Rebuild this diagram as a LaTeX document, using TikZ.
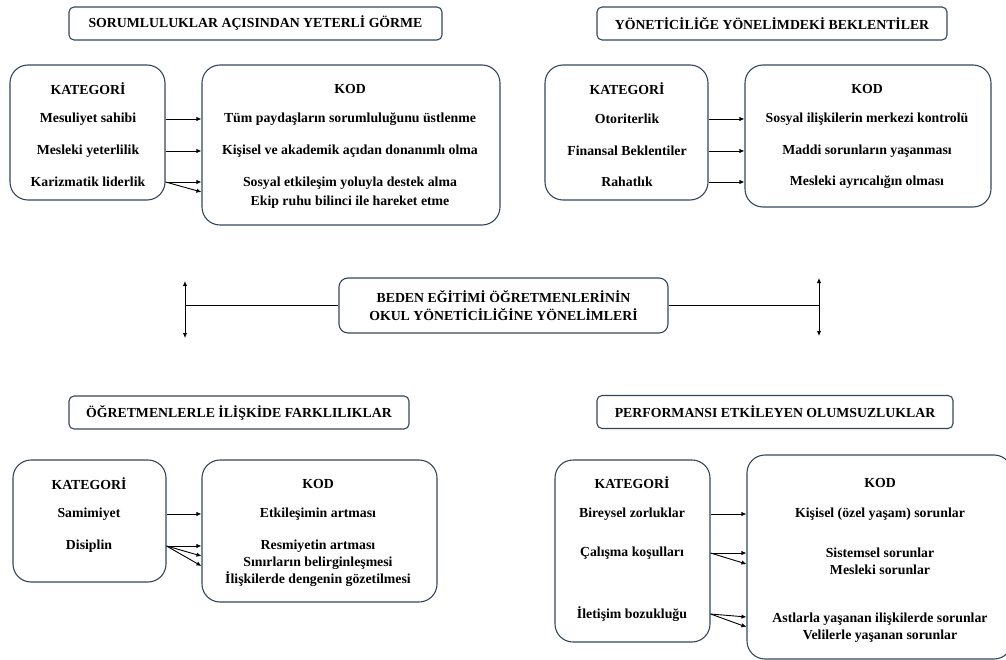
\documentclass[tikz,border=0pt]{standalone}
\usepackage{fontspec}
\setmainfont{Liberation Serif}
\usepackage{tikz}
\usetikzlibrary{arrows.meta,calc,positioning}
\definecolor{boxline}{RGB}{52,70,90}

\begin{document}
\begin{tikzpicture}[
    x=1pt, y=-1pt,
    font=\fontsize{13.8}{15}\selectfont\bfseries,
    titlebox/.style={draw=boxline, line width=1.1pt, rounded corners=5pt, minimum height=33pt, inner sep=0pt},
    katbox/.style={draw=boxline, line width=1.1pt, rounded corners=18pt, inner sep=0pt},
    mainbox/.style={draw=boxline, line width=1.1pt, rounded corners=9pt, minimum height=55pt, inner sep=0pt},
    lbl/.style={inner sep=1pt, yshift=-1pt},
    arr/.style={-{Latex[length=5pt,width=4.5pt]}, line width=0.9pt},
    darr/.style={{Latex[length=5pt,width=4.5pt]}-{Latex[length=5pt,width=4.5pt]}, line width=0.9pt}
]
\useasboundingbox (0,0) rectangle (1006,660);

% Sorumluluklar
\node[titlebox, minimum width=373pt] (t1) at (255.5,23.5) {SORUMLULUKLAR AÇISINDAN YETERLİ GÖRME};
\node[katbox, minimum width=155pt, minimum height=135pt] (kat1) at (87.5,132.5) {};
\node[katbox, minimum width=298pt, minimum height=160pt] (kod1) at (351,145) {};
\node[lbl] (kh1) at (88,88) {KATEGORİ};
\node[lbl] (k1a) at (88,118) {Mesuliyet sahibi};
\node[lbl] (k1b) at (88,150) {Mesleki yeterlilik};
\node[lbl] (k1c) at (88,181) {Karizmatik liderlik};
\node[lbl] (ch1) at (350,88) {KOD};
\node[lbl] (c1a) at (350,118) {Tüm paydaşların sorumluluğunu üstlenme};
\node[lbl] (c1b) at (350,150) {Kişisel ve akademik açıdan donanımlı olma};
\node[lbl] (c1c) at (350,182) {Sosyal etkileşim yoluyla destek alma};
\node[lbl] (c1d) at (350,201) {Ekip ruhu bilinci ile hareket etme};
\draw[arr] (kat1.east |- k1a) -- (kod1.west |- c1a);
\draw[arr] (kat1.east |- k1b) -- (kod1.west |- c1b);
\draw[arr] (kat1.east |- k1c) -- (kod1.west |- k1c);
\draw[arr] (kat1.east |- k1c) -- ($(kod1.west |- k1c)+(0,10)$);

% Beklentiler
\node[titlebox, minimum width=350pt] (t2) at (772,23.5) {YÖNETİCİLİĞE YÖNELİMDEKİ BEKLENTİLER};
\node[katbox, minimum width=163pt, minimum height=135pt] (kat2) at (626.5,132.5) {};
\node[katbox, minimum width=246pt, minimum height=142pt] (kod2) at (868,136) {};
\node[lbl] (kh2) at (627,88) {KATEGORİ};
\node[lbl] (k2a) at (627,118) {Otoriterlik};
\node[lbl] (k2b) at (627,150) {Finansal Beklentiler};
\node[lbl] (k2c) at (627,181) {Rahatlık};
\node[lbl] (ch2) at (867,88) {KOD};
\node[lbl] (c2a) at (867,118) {Sosyal ilişkilerin merkezi kontrolü};
\node[lbl] (c2b) at (867,150) {Maddi sorunların yaşanması};
\node[lbl] (c2c) at (867,181) {Mesleki ayrıcalığın olması};
\draw[arr] (kat2.east |- k2a) -- (kod2.west |- c2a);
\draw[arr] (kat2.east |- k2b) -- (kod2.west |- c2b);
\draw[arr] (kat2.east |- k2c) -- (kod2.west |- c2c);

% Ana tema
\node[mainbox, minimum width=329pt, align=center, font=\fontsize{13.8}{18}\selectfont\bfseries] (ana) at (503.5,305.5) {BEDEN EĞİTİMİ ÖĞRETMENLERİNİN\\OKUL YÖNETİCİLİĞİNE YÖNELİMLERİ};
\coordinate (lt) at (185,281);
\coordinate (lb) at (185,338);
\coordinate (rt) at (819,278);
\coordinate (rb) at (819,336);
\draw[darr] (lt) -- (lb);
\draw[darr] (rt) -- (rb);
\draw[line width=0.9pt] (ana.west) -- (ana.west -| lt);
\draw[line width=0.9pt] (ana.east) -- (ana.east -| rt);

% İlişkide farklılıklar
\node[titlebox, minimum width=340pt] (t3) at (239,412.5) {ÖĞRETMENLERLE İLİŞKİDE FARKLILIKLAR};
\node[katbox, minimum width=153pt, minimum height=122pt] (kat3) at (89.5,521) {};
\node[katbox, minimum width=235pt, minimum height=142pt] (kod3) at (319.5,531) {};
\node[lbl] (kh3) at (89,483) {KATEGORİ};
\node[lbl] (k3a) at (89,513) {Samimiyet};
\node[lbl] (k3b) at (89,545) {Disiplin};
\node[lbl] (ch3) at (318,483) {KOD};
\node[lbl] (c3a) at (318,513) {Etkileşimin artması};
\node[lbl] (c3b) at (318,545) {Resmiyetin artması};
\node[lbl] (c3c) at (318,562) {Sınırların belirginleşmesi};
\node[lbl] (c3d) at (318,578) {İlişkilerde dengenin gözetilmesi};
\draw[arr] (kat3.east |- k3a) -- (kod3.west |- c3a);
\draw[arr] (kat3.east |- k3b) -- (kod3.west |- k3b);
\draw[arr] (kat3.east |- k3b) -- ($(kod3.west |- k3b)+(0,10)$);
\draw[arr] (kat3.east |- k3b) -- ($(kod3.west |- k3b)+(0,20)$);

% Olumsuzluklar
\node[titlebox, minimum width=356pt] (t4) at (775,412) {PERFORMANSI ETKİLEYEN OLUMSUZLUKLAR};
\node[katbox, minimum width=155pt, minimum height=182pt] (kat4) at (632.5,551) {};
\node[katbox, minimum width=265pt, minimum height=204pt] (kod4) at (879.5,557) {};
\node[lbl] (kh4) at (632,482) {KATEGORİ};
\node[lbl] (k4a) at (632,513) {Bireysel zorluklar};
\node[lbl] (k4b) at (632,552) {Çalışma koşulları};
\node[lbl] (k4c) at (632,613) {İletişim bozukluğu};
\node[lbl] (ch4) at (880,482) {KOD};
\node[lbl] (c4a) at (880,513) {Kişisel (özel yaşam) sorunlar};
\node[lbl] (c4b) at (880,552) {Sistemsel sorunlar};
\node[lbl] (c4c) at (880,569) {Mesleki sorunlar};
\node[lbl] (c4d) at (880,618) {Astlarla yaşanan ilişkilerde sorunlar};
\node[lbl] (c4e) at (880,635) {Velilerle yaşanan sorunlar};
\draw[arr] (kat4.east |- k4a) -- (kod4.west |- c4a);
\draw[arr] (kat4.east |- k4b) -- (kod4.west |- k4b);
\draw[arr] (kat4.east |- k4b) -- ($(kod4.west |- k4b)+(0,11)$);
\draw[arr] (kat4.east |- k4c) -- ($(kod4.west |- k4c)+(0,3)$);
\draw[arr] (kat4.east |- k4c) -- ($(kod4.west |- k4c)+(0,13)$);

\end{tikzpicture}
\end{document}
